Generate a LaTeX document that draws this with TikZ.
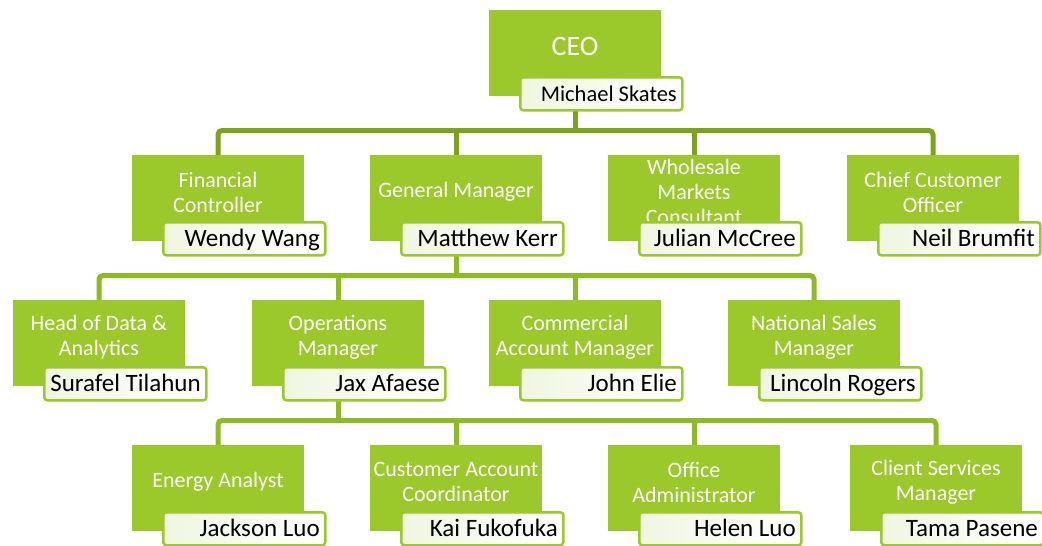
\documentclass[tikz,border=0pt]{standalone}
\usepackage{fontspec}
\setmainfont{Carlito}
\usetikzlibrary{backgrounds}
\definecolor{boxgreen}{HTML}{9BC92B}
\definecolor{lineA}{HTML}{7DA21D}
\definecolor{lineB}{HTML}{8DBB25}
\definecolor{tint}{HTML}{EFF6E0}
\newcommand\OrgBox[6]{%
  \node[box] (#1) at (#2,#3) {};
  \node[title,#6] (#1t) at ([yshift=-37pt]#1.north) {#4};
  \node[namebox] (#1n) at ([xshift=31.3pt,yshift=-67.3pt]#1.north west) {};
  \node[nametext] (#1p) at ([xshift=188pt,yshift=-91pt]#1.north west) {#5};
}
\begin{document}
\begin{tikzpicture}[x=1pt,y=-1pt,
  box/.style={rectangle, fill=boxgreen, minimum width=172pt, minimum height=86pt, inner sep=0pt, outer sep=0pt, anchor=north west},
  title/.style={text=white, align=center, font=\fontsize{22}{25}\selectfont, inner sep=0pt},
  ceotitle/.style={font=\fontsize{28}{32}\selectfont},
  namebox/.style={rectangle, rounded corners=3pt, draw=boxgreen, line width=2.5pt, left color=tint, middle color=white, right color=white, minimum width=162pt, minimum height=33pt, inner sep=0pt, outer sep=0pt, anchor=north west},
  nametext/.style={text=black, font=\fontsize{25}{29}\selectfont, inner sep=0pt, anchor=base east},
  connA/.style={draw=lineA, line width=5pt, rounded corners=4pt},
  connB/.style={draw=lineB, line width=5pt, rounded corners=4pt}]
\useasboundingbox (0,0) rectangle (1042,546);
% level 0
\OrgBox{b0}{489}{10}{CEO}{\fontsize{22.5}{26}\selectfont Michael Skates}{ceotitle}
% level 1
\OrgBox{b1a}{132}{155}{Financial\\Controller}{Wendy Wang}{}
\OrgBox{b1b}{370}{155}{General Manager}{Matthew Kerr}{}
\OrgBox{b1c}{608}{155}{Wholesale\\Markets\\Consultant}{Julian McCree}{}
\OrgBox{b1d}{847}{155}{Chief Customer\\Officer}{Neil Brumfit}{}
% level 2
\OrgBox{b2a}{13}{300}{Head of Data \&\\Analytics}{Surafel Tilahun}{}
\OrgBox{b2b}{252}{300}{Operations\\Manager}{Jax Afaese}{}
\OrgBox{b2c}{489}{300}{Commercial\\Account Manager}{John Elie}{}
\OrgBox{b2d}{728}{300}{National Sales\\Manager}{Lincoln Rogers}{}
% level 3
\OrgBox{b3a}{132}{445}{Energy Analyst}{Jackson Luo}{}
\OrgBox{b3b}{370}{445}{Customer Account\\Coordinator}{Kai Fukofuka}{}
\OrgBox{b3c}{608}{445}{Office\\Administrator}{Helen Luo}{}
\OrgBox{b3d}{850}{445}{Client Services\\Manager}{Tama Pasene}{}
\coordinate (bus1) at (0,130.5);
\coordinate (bus2) at (0,275.5);
\coordinate (bus3) at (0,420.5);
\begin{pgfonlayer}{background}
  \draw[connA] (b1a.north) |- (b1d.north |- bus1) -- (b1d.north);
  \draw[connA] (b1b.north) -- (b1b.north |- bus1);
  \draw[connA] (b1c.north) -- (b1c.north |- bus1);
  \draw[connA] (b0.south) -- (b0.south |- bus1);
  \draw[connB] (b2a.north) |- (b2d.north |- bus2) -- (b2d.north);
  \draw[connB] (b2b.north) -- (b2b.north |- bus2);
  \draw[connB] (b2c.north) -- (b2c.north |- bus2);
  \draw[connB] (b1b.south) -- (b1b.south |- bus2);
  \draw[connB] (b3a.north) |- (b3d.north |- bus3) -- (b3d.north);
  \draw[connB] (b3b.north) -- (b3b.north |- bus3);
  \draw[connB] (b3c.north) -- (b3c.north |- bus3);
  \draw[connB] (b2b.south) -- (b2b.south |- bus3);
\end{pgfonlayer}
\end{tikzpicture}
\end{document}
